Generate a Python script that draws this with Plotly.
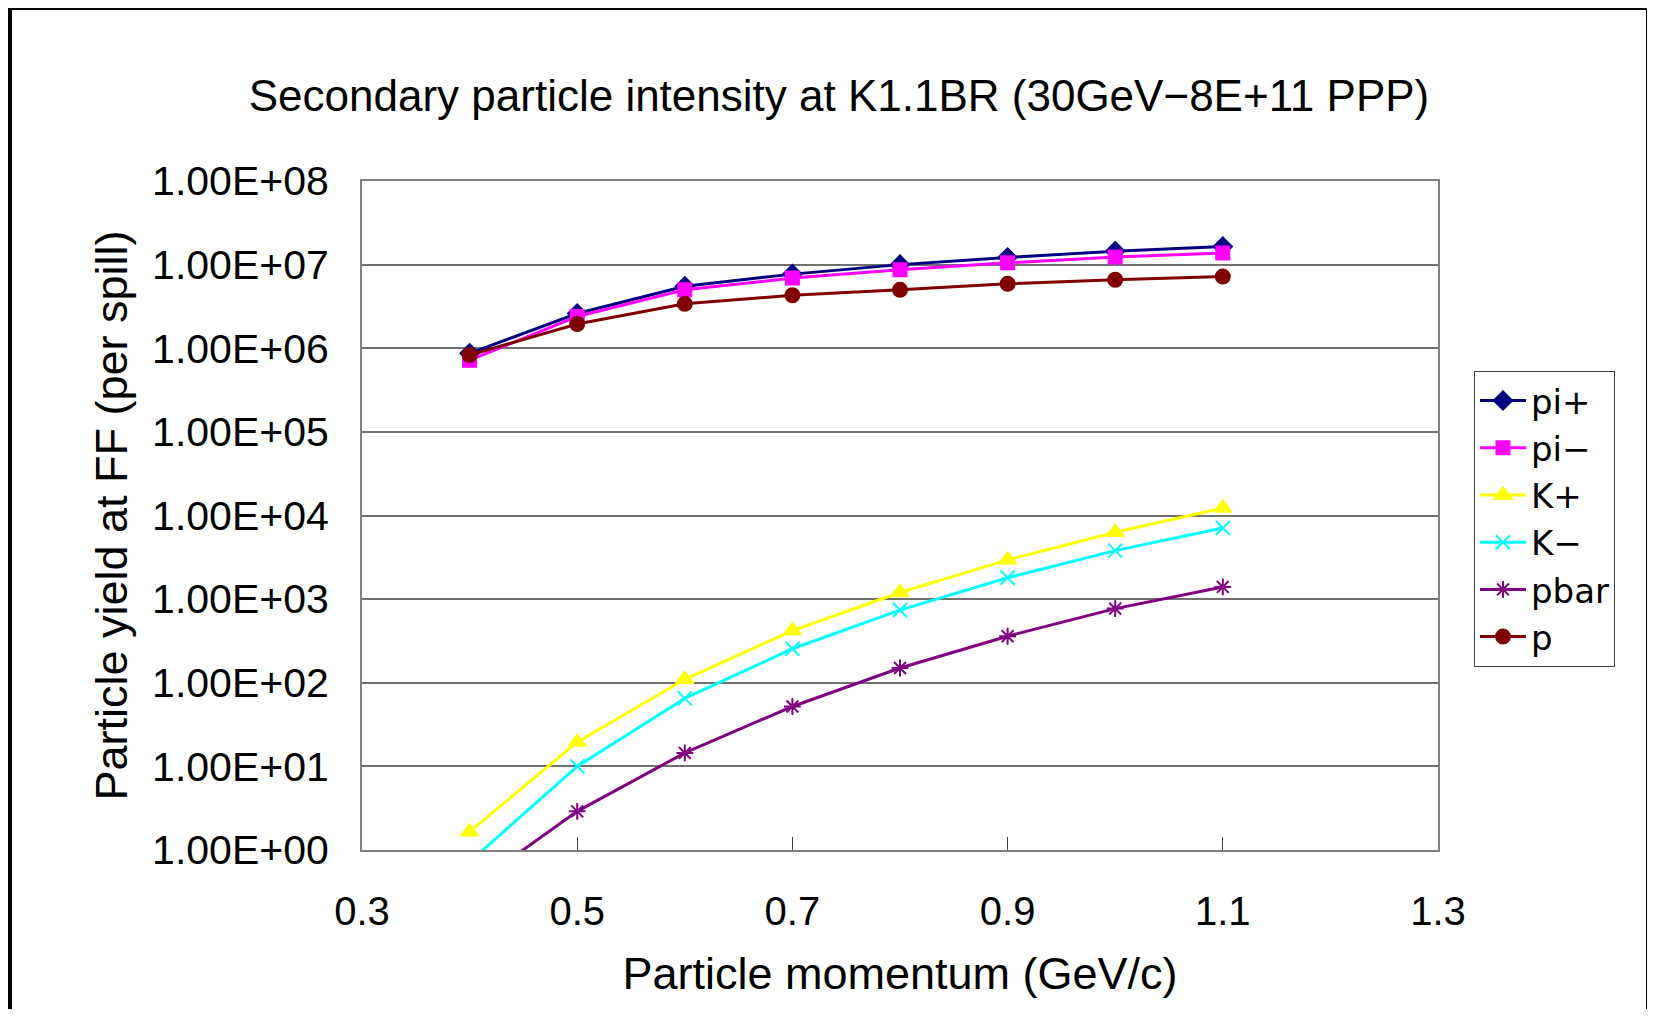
import plotly.graph_objects as go

# ---- data ----
momentum = [0.4, 0.5, 0.6, 0.7, 0.8, 0.9, 1.0, 1.1]
pi_plus = [8.7e5, 2.6e6, 5.5e6, 7.7e6, 1.0e7, 1.22e7, 1.45e7, 1.65e7]
pi_minus = [7.2e5, 2.4e6, 5.0e6, 6.9e6, 8.7e6, 1.05e7, 1.23e7, 1.38e7]
k_plus = [1.65, 19.5, 110, 420, 1200, 2950, 6300, 1.23e4]
k_minus = [0.72, 10, 65, 255, 740, 1800, 3800, 7100]
pbar = [0.35, 2.9, 14.5, 52, 150, 360, 770, 1400]
proton = [8.3e5, 1.95e6, 3.4e6, 4.3e6, 5.0e6, 5.9e6, 6.6e6, 7.2e6]

series_names = ["pi+", "pi−", "K+", "K−", "pbar", "p"]
y_tick_vals = [1e0, 1e1, 1e2, 1e3, 1e4, 1e5, 1e6, 1e7, 1e8]
y_tick_text = ["1.00E+00", "1.00E+01", "1.00E+02", "1.00E+03", "1.00E+04",
               "1.00E+05", "1.00E+06", "1.00E+07", "1.00E+08"]
x_tick_vals = [0.3, 0.5, 0.7, 0.9, 1.1, 1.3]
x_tick_text = ["0.3", "0.5", "0.7", "0.9", "1.1", "1.3"]

styles = [
    ("#000080", "diamond", 14),
    ("#FF00FF", "square", 13),
    ("#FFFF00", "triangle-up", 15),
    ("#00FFFF", "x-thin-open", 14),
    ("#800080", "asterisk-open", 14),
    ("#800000", "circle", 14),
]
values = [pi_plus, pi_minus, k_plus, k_minus, pbar, proton]

FONT = "Liberation Sans, Arial, sans-serif"

fig = go.Figure()
for name, vals, (col, sym, sz) in zip(series_names, values, styles):
    fig.add_trace(go.Scatter(
        x=momentum, y=vals, name=name, mode="lines+markers",
        line=dict(color=col, width=3),
        marker=dict(color=col, symbol=sym, size=sz,
                    line=dict(color=col, width=2)),
    ))

OFF = 8  # page body margin
W, H = 1655 - OFF, 1017 - 2 * OFF
L, R, T, B = 362 - OFF, 1438 - OFF, 181 - OFF, 850 - OFF
pw, ph = R - L, B - T

def px_x(x):
    return (x - OFF - L) / pw

def px_y(y):
    return (B - (y - OFF)) / ph

fig.update_layout(
    width=W, height=H,
    margin=dict(l=L, r=W - R, t=T, b=H - B, pad=0),
    paper_bgcolor="white", plot_bgcolor="white",
    font=dict(family=FONT, color="black", size=40),
    title=dict(text="Secondary particle intensity at K1.1BR (30GeV−8E+11 PPP)",
               x=(839 - OFF) / W, xanchor="center", xref="container",
               y=1 - (96 - OFF) / H, yanchor="middle", yref="container",
               font=dict(family=FONT, size=44, color="black")),
    showlegend=True,
    legend=dict(x=px_x(1474), y=px_y(371), xanchor="left", yanchor="top",
                bordercolor="#404040", borderwidth=1, bgcolor="white",
                font=dict(family="DejaVu Sans, sans-serif", size=34, color="black"),
                tracegroupgap=0, itemwidth=46),
    xaxis=dict(range=[0.3, 1.3], tickvals=x_tick_vals, ticktext=x_tick_text,
               showgrid=False, zeroline=False,
               showline=True, linecolor="#808080", linewidth=2, mirror=True,
               ticks="inside", ticklen=13, tickcolor="#404040", tickwidth=1,
               tickfont=dict(family=FONT, size=40, color="black"),
               ticklabelstandoff=25,
               title=dict(text="Particle momentum (GeV/c)", standoff=25,
                          font=dict(family=FONT, size=45, color="black"))),
    yaxis=dict(type="log", range=[0, 8], tickvals=y_tick_vals, ticktext=y_tick_text,
               showgrid=True, gridcolor="#707070", gridwidth=1.5, zeroline=False,
               showline=True, linecolor="#808080", linewidth=2, mirror=True,
               ticks="", tickfont=dict(family=FONT, size=41, color="black"),
               ticklabelstandoff=23,
               title=dict(text="Particle yield at FF (per spill)", standoff=10,
                          font=dict(family=FONT, size=45, color="black"))),
)

# outer chart frame
fig.add_shape(type="rect", xref="paper", yref="paper",
              x0=px_x(10), x1=px_x(1648), y0=px_y(1040), y1=px_y(8),
              line=dict(color="black", width=4), fillcolor="rgba(0,0,0,0)",
              layer="above")

fig.write_html("out.html")
